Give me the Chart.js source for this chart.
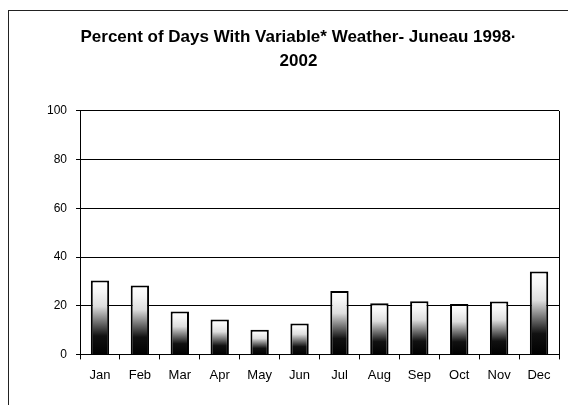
<!DOCTYPE html>
<html>
<head>
<meta charset="utf-8">
<script src="https://cdn.jsdelivr.net/npm/chart.js@4.4.0/dist/chart.umd.min.js"></script>
<style>
  html, body { margin: 0; padding: 0; background: #fff; }
  #wrap { position: relative; width: 568px; height: 405px; }
  #frame { position: absolute; left: 8px; top: 10px; width: 560px; height: 395px;
           border-top: 1px solid #222; border-left: 1px solid #222; box-sizing: border-box; }
</style>
</head>
<body>
<div id="wrap">
  <div id="frame"></div>
  <canvas id="myChart" width="568" height="405"></canvas>
</div>
<script>
// months on the x axis
var months = ['Jan', 'Feb', 'Mar', 'Apr', 'May', 'Jun', 'Jul', 'Aug', 'Sep', 'Oct', 'Nov', 'Dec']
// percent of days with variable weather
var percent_days = [30.4, 28.3, 17.6, 14.3, 10.1, 12.7, 26.0, 21.0, 21.8, 20.7, 21.7, 34.0]
// y axis ticks
var y_ticks = [0, 20, 40, 60, 80, 100]

// shaded fill, dark at the base, white toward the top
function bar_fill(context){
    var chart = context.chart
    if (!chart.chartArea) return '#fff'
    var y = chart.scales.y
    var top = y.getPixelForValue(context.raw)
    var base = y.getPixelForValue(0)
    var g = chart.ctx.createLinearGradient(0, base, 0, top)
    g.addColorStop(0, '#000')
    g.addColorStop(0.25, '#111')
    g.addColorStop(0.45, '#777')
    g.addColorStop(0.65, '#ddd')
    g.addColorStop(0.85, '#f6f6f6')
    g.addColorStop(1, '#fff')
    return g
}

// right edge of the plot area
const rightEdge = {
    id: 'rightEdge',
    afterDraw(chart){
        const a = chart.chartArea
        const c = chart.ctx
        c.save()
        c.strokeStyle = '#000'
        c.lineWidth = 1
        c.beginPath()
        c.moveTo(a.right + 0.5, a.top)
        c.lineTo(a.right + 0.5, a.bottom)
        c.stroke()
        c.restore()
    }
}

const ctx = document.getElementById('myChart');
new Chart(ctx, {
    type: 'bar',
    data: {
        labels: months,
        datasets: [{
            data: percent_days,
            backgroundColor: bar_fill,
            borderColor: '#000',
            borderWidth: 2,
            borderSkipped: 'bottom',
            barPercentage: 0.46,
            categoryPercentage: 1.0
        }]
    },
    options: {
        responsive: false,
        animation: false,
        layout: { padding: { left: 38, right: 9, top: 10, bottom: 14 } },
        plugins: {
            legend: { display: false },
            tooltip: { enabled: false },
            title: {
                display: true,
                text: ['Percent of Days With Variable* Weather- Juneau 1998·', '2002'],
                color: '#000',
                font: { family: 'Liberation Sans, Arial, sans-serif', size: 17, weight: 'bold', lineHeight: 1.38 },
                padding: { top: 16, bottom: 38 }
            }
        },
        scales: {
            x: {
                grid: { display: true, drawOnChartArea: false, color: '#000', tickLength: 5, offset: true },
                border: { color: '#000', width: 1 },
                ticks: { color: '#000', padding: 8, font: { family: 'Liberation Sans, Arial, sans-serif', size: 13 } }
            },
            y: {
                min: 0,
                max: 100,
                afterBuildTicks: function(axis){ axis.ticks = y_ticks.map(function(v){ return { value: v } }) },
                grid: { color: '#000', lineWidth: 1, tickLength: 4 },
                border: { color: '#000', width: 1 },
                ticks: { color: '#000', padding: 9, font: { family: 'Liberation Sans, Arial, sans-serif', size: 12 } }
            }
        }
    },
    plugins: [rightEdge]
});
</script>
</body>
</html>
